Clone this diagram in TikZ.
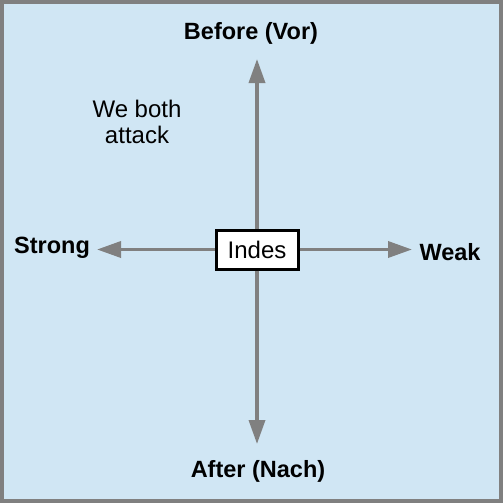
\documentclass[tikz,border=0pt]{standalone}
\usepackage{fontspec}
\setmainfont{Liberation Sans}
\usetikzlibrary{arrows.meta}
\definecolor{bgblue}{RGB}{208,230,244}
\definecolor{axisgrey}{RGB}{128,128,128}
\tikzset{
  axis/.style={draw=axisgrey, line width=3.5pt, -{Triangle[length=24pt,width=16pt]}},
  lab/.style={font=\fontsize{23.5}{27}\selectfont\bfseries, inner sep=0pt},
}
\begin{document}
\begin{tikzpicture}[x=1pt,y=-1pt]
\useasboundingbox (0,0) rectangle (503,503);
\filldraw[fill=bgblue, draw=axisgrey, line width=4pt] (2,2) rectangle (501,501);
\node[draw=black, fill=white, line width=3pt, minimum width=82pt, minimum height=39pt, inner sep=0pt, font=\fontsize{24}{27}\selectfont] (c) at (257,249.5) {Indes};
\coordinate (n) at (257,59);
\coordinate (s) at (257,444);
\coordinate (w) at (97,249.5);
\coordinate (e) at (412,249.5);
\draw[axis] (c.north) -- (n);
\draw[axis] (c.south) -- (s);
\draw[axis] (c.west) -- (w);
\draw[axis] (c.east) -- (e);
\node[lab] (before) at (251,33) {Before (Vor)};
\node[lab] (after) at (258,471) {After (Nach)};
\node[lab] (strong) at (52,248) {Strong};
\node[lab] (weak) at (450,252) {Weak};
\node[inner sep=0pt, align=center, font=\fontsize{24}{26}\selectfont] (both) at (137,122) {We both\\attack};
\end{tikzpicture}
\end{document}
